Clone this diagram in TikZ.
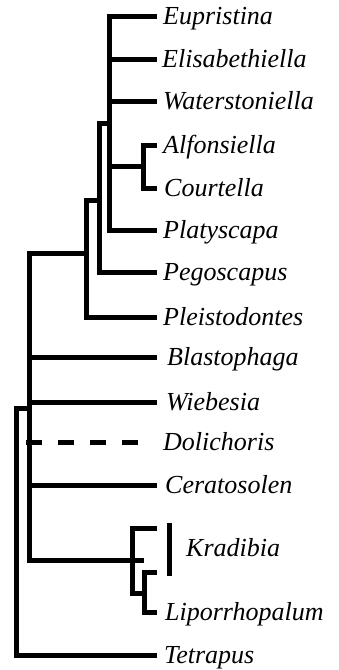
\documentclass[tikz,border=0pt]{standalone}
\usepackage{fontspec}
\newfontfamily\serit{Liberation Serif Italic}
\newcommand\taxlab[1]{\fontsize{26}{26}\selectfont\serit #1}
\begin{document}
\begin{tikzpicture}[x=1pt,y=-1pt,
  br/.style={line width=5pt,line join=miter,line cap=butt},
  tax/.style={anchor=base west,inner sep=0pt}]
\useasboundingbox (0,0) rectangle (339,670);
% leaf tips
\def\tipx{157}
\coordinate (eup) at (\tipx,16);
\coordinate (eli) at (\tipx,59);
\coordinate (wat) at (\tipx,101);
\coordinate (alf) at (\tipx,145);
\coordinate (cou) at (\tipx,188);
\coordinate (pla) at (\tipx,230);
\coordinate (peg) at (\tipx,272);
\coordinate (ple) at (\tipx,317);
\coordinate (bla) at (\tipx,357);
\coordinate (wie) at (\tipx,402);
\coordinate (dol) at (138,442);
\coordinate (cer) at (\tipx,485);
\coordinate (kra) at (\tipx,528);
\coordinate (kra2) at (\tipx,572);
\coordinate (lip) at (\tipx,612);
\coordinate (tet) at (\tipx,655);
% internal nodes (stem points)
\coordinate (nAC) at (143,166);
\coordinate (nA) at (109,123);
\coordinate (nB) at (99,200);
\coordinate (nC) at (86,253);
\coordinate (nD) at (29.5,408);
\coordinate (nK) at (132,560);
\coordinate (nS) at (144,593);
\coordinate (nR) at (16.5,408);
% clade A
\draw[br] (eup) -| (nA) |- (pla);
\draw[br] (nA |- eli) -- (eli);
\draw[br] (nA |- wat) -- (wat);
\draw[br] (alf) -| (nAC) |- (cou);
\draw[br] (nA |- nAC) -- (nAC);
% clade B
\draw[br] (nA) -| (nB) |- (peg);
% clade C
\draw[br] (nB) -| (nC) |- (ple);
% clade D
\draw[br] (nC) -| (nD) |- (nK);
\draw[br] (nD |- bla) -- (bla);
\draw[br] (nD |- wie) -- (wie);
\draw[br] (nD |- cer) -- (cer);
\draw[br,dash pattern=on 16pt off 16pt] ([xshift=-3.5pt]nD |- dol) -- (dol);
% Kradibia clade
\draw[br] (kra) -| (nK) |- (nS);
\draw[br] (kra2) -| (nS) |- (lip);
\draw[br] (nK) -- (nK -| nS);
% root
\draw[br] (nD) -- (nR) |- (tet);
% Kradibia bar
\coordinate (barT) at (169,523);
\coordinate (barB) at (169,576);
\draw[br] (barT) -- (barB);
% labels
\node[tax] (Leup) at (163,24) {\taxlab{Eupristina}};
\node[tax] (Leli) at (162,67) {\taxlab{Elisabethiella}};
\node[tax] (Lwat) at (163,109) {\taxlab{Waterstoniella}};
\node[tax] (Lalf) at (163,153) {\taxlab{Alfonsiella}};
\node[tax] (Lcou) at (164,196) {\taxlab{Courtella}};
\node[tax] (Lpla) at (163,238) {\taxlab{Platyscapa}};
\node[tax] (Lpeg) at (163,280) {\taxlab{Pegoscapus}};
\node[tax] (Lple) at (163,325) {\taxlab{Pleistodontes}};
\node[tax] (Lbla) at (167,365) {\taxlab{Blastophaga}};
\node[tax] (Lwie) at (166,410) {\taxlab{Wiebesia}};
\node[tax] (Ldol) at (163,450) {\taxlab{Dolichoris}};
\node[tax] (Lcer) at (165,493) {\taxlab{Ceratosolen}};
\node[tax] (Lkra) at (186,556) {\taxlab{Kradibia}};
\node[tax] (Llip) at (165,620) {\taxlab{Liporrhopalum}};
\node[tax] (Ltet) at (164,663) {\taxlab{Tetrapus}};
\end{tikzpicture}
\end{document}
